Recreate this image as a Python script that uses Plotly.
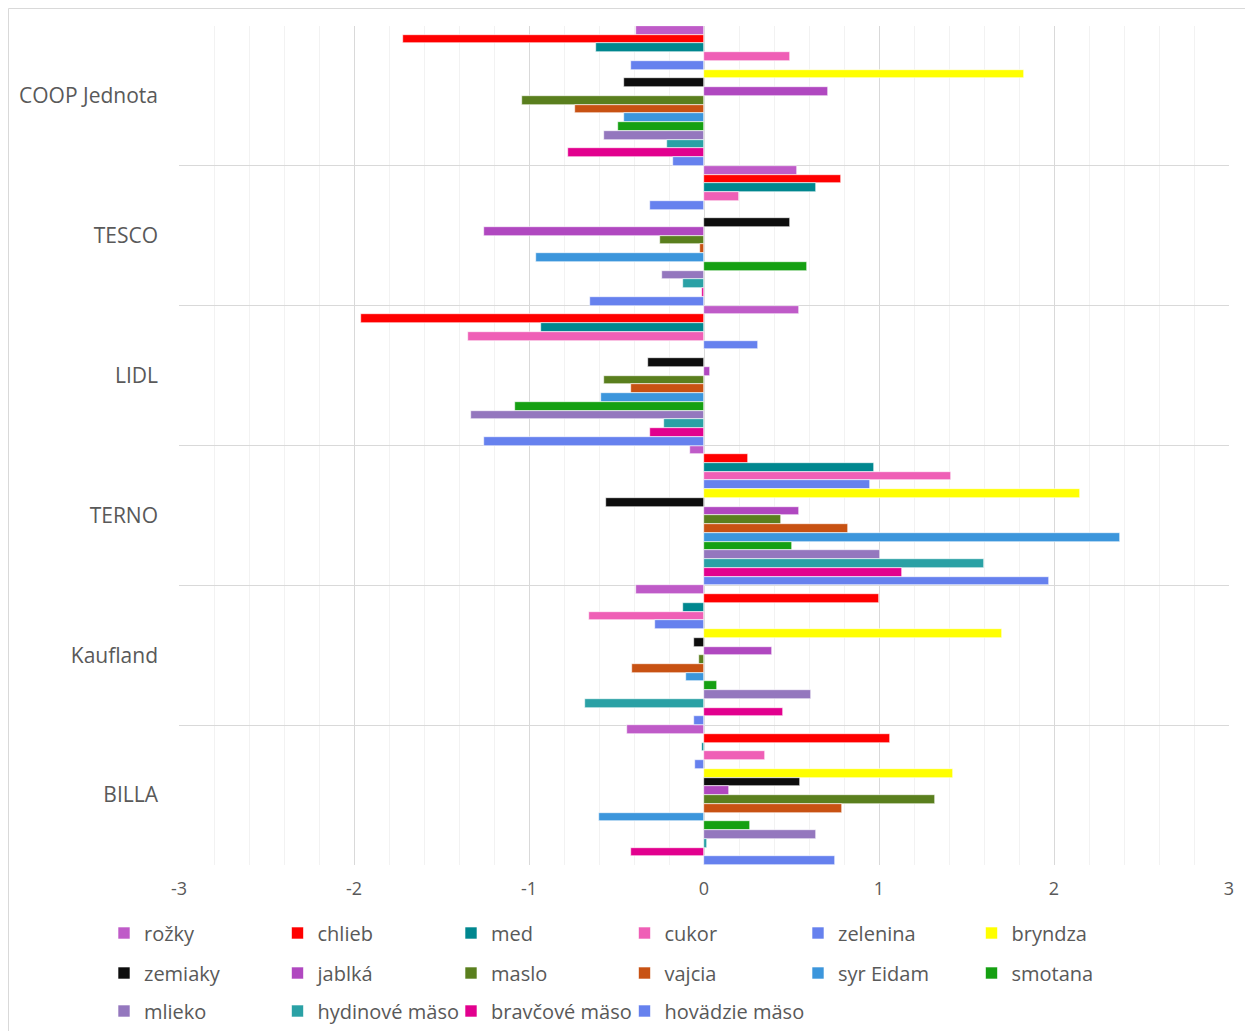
import plotly.graph_objects as go

categories = ["COOP Jednota", "TESCO", "LIDL", "TERNO", "Kaufland", "BILLA"]

series_names = ["rožky", "chlieb", "med", "cukor", "zelenina", "bryndza",
                "zemiaky", "jablká", "maslo", "vajcia", "syr Eidam", "smotana",
                "mlieko", "hydinové mäso", "bravčové mäso", "hovädzie mäso"]

series_colors = ["#BF5BC8", "#FF0000", "#00878F", "#EF5FB6", "#6681EE", "#FFFF00",
                 "#0D0D0D", "#B048C0", "#5A7F1E", "#C85213", "#3C96DC", "#15A012",
                 "#9477BE", "#2AA1A5", "#E2008E", "#6681EE"]

# values per series, in category order: COOP, TESCO, LIDL, TERNO, Kaufland, BILLA
rozky    = [-0.39,  0.53,  0.54, -0.08, -0.39, -0.44]
chlieb   = [-1.72,  0.78, -1.96,  0.25,  1.00,  1.06]
med      = [-0.615, 0.64, -0.93,  0.97, -0.12, -0.012]
cukor    = [ 0.49,  0.20, -1.35,  1.41, -0.66,  0.35]
zelenina = [-0.42, -0.31,  0.31,  0.95, -0.28, -0.05]
bryndza  = [ 1.83,  None,  None,  2.15,  1.70,  1.42]
zemiaky  = [-0.455, 0.49, -0.32, -0.56, -0.06,  0.55]
jablka   = [ 0.71, -1.26,  0.034, 0.545, 0.39,  0.14]
maslo    = [-1.04, -0.25, -0.57,  0.44, -0.03,  1.32]
vajcia   = [-0.74, -0.023,-0.42,  0.82, -0.41,  0.79]
syr      = [-0.455,-0.96, -0.59,  2.375,-0.105,-0.60]
smotana  = [-0.49,  0.59, -1.08,  0.50,  0.076, 0.26]
mlieko   = [-0.57, -0.24, -1.33,  1.006, 0.61,  0.64]
hydinove = [-0.21, -0.12, -0.23,  1.60, -0.68,  0.017]
bravcove = [-0.78, -0.01, -0.31,  1.13,  0.45, -0.42]
hovadzie = [-0.18, -0.65, -1.26,  1.97, -0.06,  0.75]

series_values = [rozky, chlieb, med, cukor, zelenina, bryndza, zemiaky, jablka,
                 maslo, vajcia, syr, smotana, mlieko, hydinove, bravcove, hovadzie]

x_tickvals = [-3, -2, -1, 0, 1, 2, 3]

FONT = "Open Sans"
TXT = "#595959"
GRID = "#D9D9D9"

W, H = 1245, 1023   # page has an 8px body margin
STEP = 173.5        # legend column spacing (px)
LX = 96             # legend left (px)

fig = go.Figure()
legend_ids = (["legend"] * 6 + ["legend2"] * 6 +
              ["legend3", "legend4", "legend5", "legend6"])
for name, vals, col, lg in zip(series_names, series_values, series_colors, legend_ids):
    fig.add_trace(go.Bar(
        y=categories, x=vals, name=name, orientation="h",
        marker=dict(color=col, line=dict(color="white", width=0.6)),
        legend=lg,
    ))

def leg(ypx, xpx=LX, fixed=True):
    d = dict(orientation="h", xref="container", yref="container",
             x=xpx / W, y=1 - ypx / H, xanchor="left", yanchor="middle",
             font=dict(family=FONT, size=20, color=TXT),
             bgcolor="rgba(0,0,0,0)", traceorder="normal", itemclick=False)
    if fixed:
        d.update(entrywidth=STEP - 45, entrywidthmode="pixels")
    return d

fig.update_layout(
    width=W, height=H,
    margin=dict(l=171, r=24, t=18, b=166),
    paper_bgcolor="white", plot_bgcolor="white",
    font=dict(family=FONT, color=TXT),
    barmode="group", bargap=0, bargroupgap=0,
    showlegend=True,
    legend=leg(925), legend2=leg(965),
    legend3=leg(1003, LX, fixed=False),
    legend4=leg(1003, LX + STEP, fixed=False),
    legend5=leg(1003, LX + 2 * STEP, fixed=False),
    legend6=leg(1003, LX + 3 * STEP, fixed=False),
    xaxis=dict(range=[-3, 3], tickvals=x_tickvals, ticktext=[str(v) for v in x_tickvals],
               showgrid=True, gridcolor=GRID, gridwidth=1,
               zeroline=True, zerolinecolor=GRID, zerolinewidth=1,
               minor=dict(dtick=0.2, showgrid=True, gridcolor="#F2F2F2", gridwidth=1),
               tickfont=dict(family=FONT, size=18, color=TXT),
               ticklabelstandoff=11,
               showline=False, ticks="", fixedrange=True),
    yaxis=dict(type="category", autorange="reversed", tickson="boundaries",
               showgrid=True, gridcolor=GRID, gridwidth=1,
               tickfont=dict(family=FONT, size=21, color=TXT),
               ticks="", ticklabelstandoff=20, showline=False, fixedrange=True),
    shapes=[dict(type="rect", xref="paper", yref="paper",
                 x0=(0.5 - 171) / 1050, x1=1.2, y0=-0.5, y1=(857 - 0.5) / 839,
                 line=dict(color=GRID, width=1), fillcolor="rgba(0,0,0,0)", layer="below")],
)

fig.write_html("out.html")
